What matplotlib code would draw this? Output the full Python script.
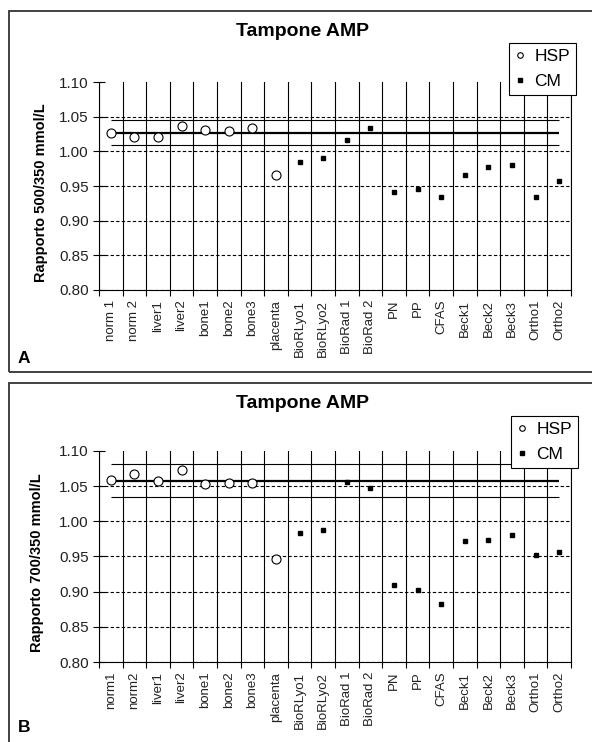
import matplotlib.pyplot as plt
import numpy as np
from matplotlib.patches import Rectangle
from matplotlib.lines import Line2D

plt.rcParams['font.family'] = ['Liberation Sans', 'DejaVu Sans']

labels_a = ["norm 1", "norm 2", "liver1", "liver2", "bone1", "bone2", "bone3",
            "placenta", "BioRLyo1", "BioRLyo2", "BioRad 1", "BioRad 2", "PN",
            "PP", "CFAS", "Beck1", "Beck2", "Beck3", "Ortho1", "Ortho2"]
labels_b = ["norm1", "norm2", "liver1", "liver2", "bone1", "bone2", "bone3",
            "placenta", "BioRLyo1", "BioRLyo2", "BioRad 1", "BioRad 2", "PN",
            "PP", "CFAS", "Beck1", "Beck2", "Beck3", "Ortho1", "Ortho2"]

# ratio 500/350 (panel A) and 700/350 (panel B)
hsp_a = [1.026, 1.020, 1.020, 1.036, 1.031, 1.029, 1.033, 0.966]
cm_a = [0.984, 0.990, 1.016, 1.033, 0.941, 0.946, 0.934, 0.966, 0.977,
        0.980, 0.934, 0.957]
hsp_b = [1.059, 1.067, 1.058, 1.073, 1.053, 1.054, 1.054, 0.947]
cm_b = [0.984, 0.987, 1.056, 1.048, 0.909, 0.902, 0.883, 0.972, 0.973,
        0.980, 0.952, 0.956]

# mean line and limits of HSP
ref_a = [1.027, 1.045, 1.009]
ref_b = [1.058, 1.082, 1.034]

W, H = 592, 742
fig = plt.figure(figsize=(W / 100, H / 100), dpi=100)


def panel(top, bottom, hsp, cm, ref, labels, ylabel, letter, title_y, letter_y,
          leg_box, ylab_x):
    ax = fig.add_axes([99 / W, (H - bottom) / H, 472 / W, (bottom - top) / H])
    n = len(labels)
    x = np.arange(n) + 0.5
    nh = len(hsp)

    ax.set_xlim(0, n)
    ax.set_ylim(0.80, 1.10)
    ax.set_yticks(np.arange(0.80, 1.101, 0.05))
    ax.set_yticklabels([f"{v:.2f}" for v in np.arange(0.80, 1.101, 0.05)])
    ax.set_xticks(np.arange(n + 1))
    ax.set_xticklabels([])
    ax.set_xticks(x, minor=True)
    ax.set_xticklabels(labels, minor=True, rotation=90, fontsize=9.5,
                       color='#222222')
    ax.tick_params(axis='x', which='minor', length=0, pad=7)
    ax.tick_params(axis='x', which='major', length=4, width=0.8)
    ax.tick_params(axis='y', direction='inout', length=9, width=0.8, pad=3,
                   labelsize=11, labelcolor='#222222')

    ax.grid(axis='x', which='major', color='black', lw=0.8, ls='-')
    ax.grid(axis='y', which='major', color='black', lw=0.8, ls=(0, (3, 2)))
    ax.yaxis.get_gridlines()[-1].set_visible(False)
    ax.spines['top'].set_visible(False)
    for s in ['left', 'right', 'bottom']:
        ax.spines[s].set_linewidth(0.8)

    ax.hlines(ref[0], x[0], x[-1], color='black', lw=1.6, zorder=2)
    ax.hlines(ref[1:], x[0], x[-1], color='black', lw=0.8, zorder=2)

    ax.plot(x[:nh], hsp, 'o', ms=6.5, mfc='white', mec='black', mew=0.8,
            zorder=3)
    ax.plot(x[nh:], cm, 's', ms=3.2, color='black', zorder=3)

    ax.set_ylabel(ylabel, fontsize=10.5, fontweight='bold')
    ax.yaxis.set_label_coords((ylab_x - 99) / 472, 0.47)

    fig.text(302 / W, 1 - title_y / H, "Tampone AMP", ha='center',
             va='center', fontsize=14, fontweight='bold')
    fig.text(18 / W, 1 - letter_y / H, letter, ha='left', va='center',
             fontsize=12.5, fontweight='bold')

    handles = [Line2D([], [], ls='', marker='o', ms=4, mfc='white',
                      mec='black', mew=0.8),
               Line2D([], [], ls='', marker='s', ms=3, color='black')]
    leg = ax.legend(handles, ["HSP", "CM"], loc='upper right',
                    bbox_to_anchor=(leg_box[0] / W, 1 - leg_box[1] / H),
                    bbox_transform=fig.transFigure, fontsize=12.5,
                    frameon=True, fancybox=False, framealpha=1,
                    edgecolor='black', handlelength=0.5, handletextpad=0.6,
                    borderpad=0.35, labelspacing=0.55, borderaxespad=0)
    leg.get_frame().set_linewidth(0.8)
    return ax


panel(82, 290, hsp_a, cm_a, ref_a, labels_a, "Rapporto 500/350 mmol/L", "A",
      32, 358, (576, 43), 48)
panel(451, 662, hsp_b, cm_b, ref_b, labels_b, "Rapporto 700/350 mmol/L", "B",
      403, 728, (578, 416), 44)

# panel frames
fig.patches.append(Rectangle((9 / W, (H - 372) / H), 1.0, (372 - 11) / H,
                             transform=fig.transFigure, fill=False,
                             edgecolor='#333333', lw=1.3))
fig.patches.append(Rectangle((9 / W, -0.1), 1.0, (H - 383) / H + 0.1,
                             transform=fig.transFigure, fill=False,
                             edgecolor='#333333', lw=1.3))

fig.savefig("out.png", dpi=100)
